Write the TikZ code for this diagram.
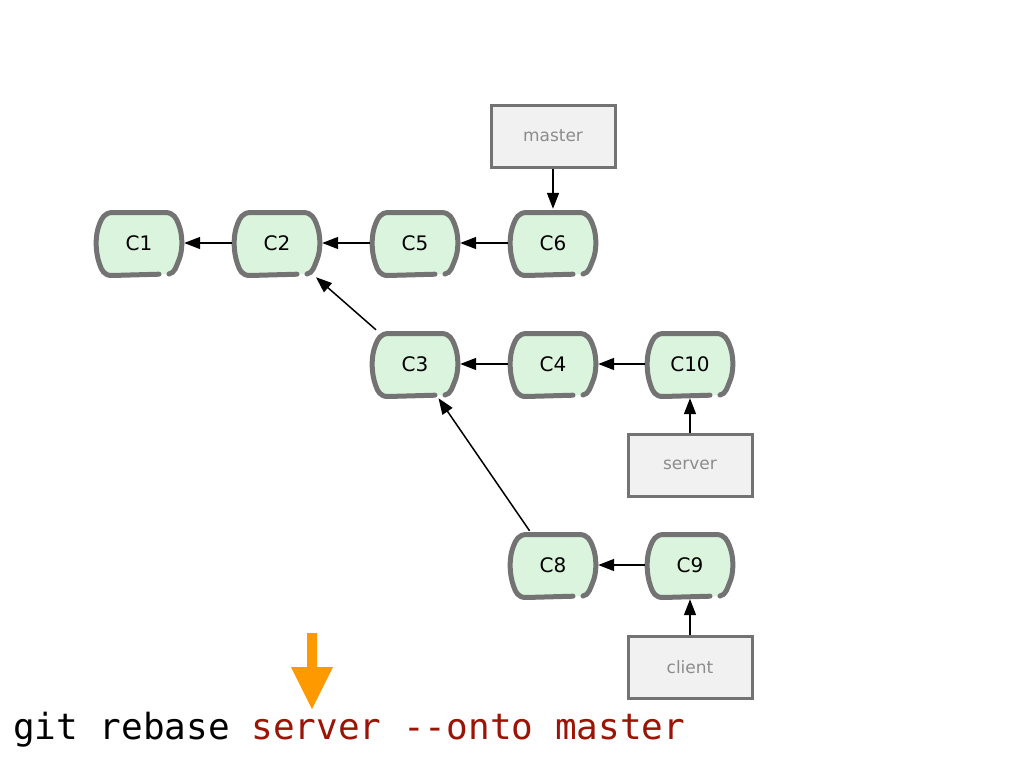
\documentclass[tikz,border=0pt]{standalone}
\usepackage{fontspec}
\setmainfont{DejaVu Sans}
\newfontfamily\cmdfont{DejaVu Sans Mono}
\usetikzlibrary{arrows.meta}
\definecolor{cborder}{RGB}{115,115,115}
\definecolor{cfill}{RGB}{219,244,221}
\definecolor{bfill}{RGB}{241,241,241}
\definecolor{btext}{RGB}{140,140,140}
\definecolor{cmdred}{RGB}{155,20,5}
\definecolor{arrorange}{RGB}{255,153,0}
\tikzset{
  commit/.style={rectangle,minimum width=90pt,minimum height=68pt,inner sep=0pt,
    font=\fontsize{20}{24}\selectfont},
  commitline/.style={draw=cborder,line width=5pt,line cap=round,line join=round},
  branchbox/.style={rectangle,draw=cborder,fill=bfill,line width=3pt,
    minimum width=124pt,minimum height=62pt,inner sep=0pt,text=btext,
    font=\fontsize{17}{20}\selectfont},
  conn/.style={draw=black,line width=1.5pt,-{Triangle[length=16pt,width=12pt]}},
}
\newcommand\commitpath{%
  (-27,32.5) .. controls (-35,32.5) and (-37.25,27.5) .. (-39.5,21)
      .. controls (-44,8) and (-44,-8) .. (-39.5,-19)
      .. controls (-37.25,-24.5) and (-35,-30.5) .. (-26,-30.5) -- (26,-30.5)
      .. controls (35,-30.5) and (37.25,-24.5) .. (39.5,-19)
      .. controls (44,-8) and (44,8) .. (39.5,18)
      .. controls (37.25,23) and (36,30) .. (30,31)}
\newcommand\commitnode[4]{%
  \begin{scope}[shift={(#2,#3)}]
    \fill[cfill] \commitpath -- cycle;
    \draw[commitline] (20,31.2) -- \commitpath;
  \end{scope}
  \node[commit] (#1) at (#2,#3) {#4};%
}
\begin{document}
\begin{tikzpicture}[x=1pt,y=-1pt]
\useasboundingbox (0,0) rectangle (1024,768);
\fill[white] (0,0) rectangle (1024,768);

\commitnode{c1}{139}{243}{C1}
\commitnode{c2}{277}{243}{C2}
\commitnode{c5}{415}{243}{C5}
\commitnode{c6}{553}{243}{C6}
\commitnode{c3}{415}{364}{C3}
\commitnode{c4}{553}{364}{C4}
\commitnode{c10}{690}{364}{C10}
\commitnode{c8}{553}{565}{C8}
\commitnode{c9}{690}{565}{C9}

\node[branchbox] (master) at (553,136) {master};
\node[branchbox] (server) at (690,465) {server};
\node[branchbox] (client) at (690,667) {client};

\draw[conn] (c2) -- (c1);
\draw[conn] (c5) -- (c2);
\draw[conn] (c6) -- (c5);
\draw[conn] (c3) -- (c2);
\draw[conn] (c4) -- (c3);
\draw[conn] (c10) -- (c4);
\draw[conn] (c8) -- (c3);
\draw[conn] (c9) -- (c8);
\draw[conn] (master) -- (c6);
\draw[conn] (server) -- (c10);
\draw[conn] (client) -- (c9);

\fill[arrorange] (307,633) -- (317,633) -- (317,667) -- (333,667) -- (312,709)
  -- (291,667) -- (307,667) -- cycle;

\node[anchor=base west,inner sep=0pt,font=\cmdfont\fontsize{36}{40}\selectfont]
  (cmd) at (13,739) {git rebase \textcolor{cmdred}{server --onto master}};
\end{tikzpicture}
\end{document}
